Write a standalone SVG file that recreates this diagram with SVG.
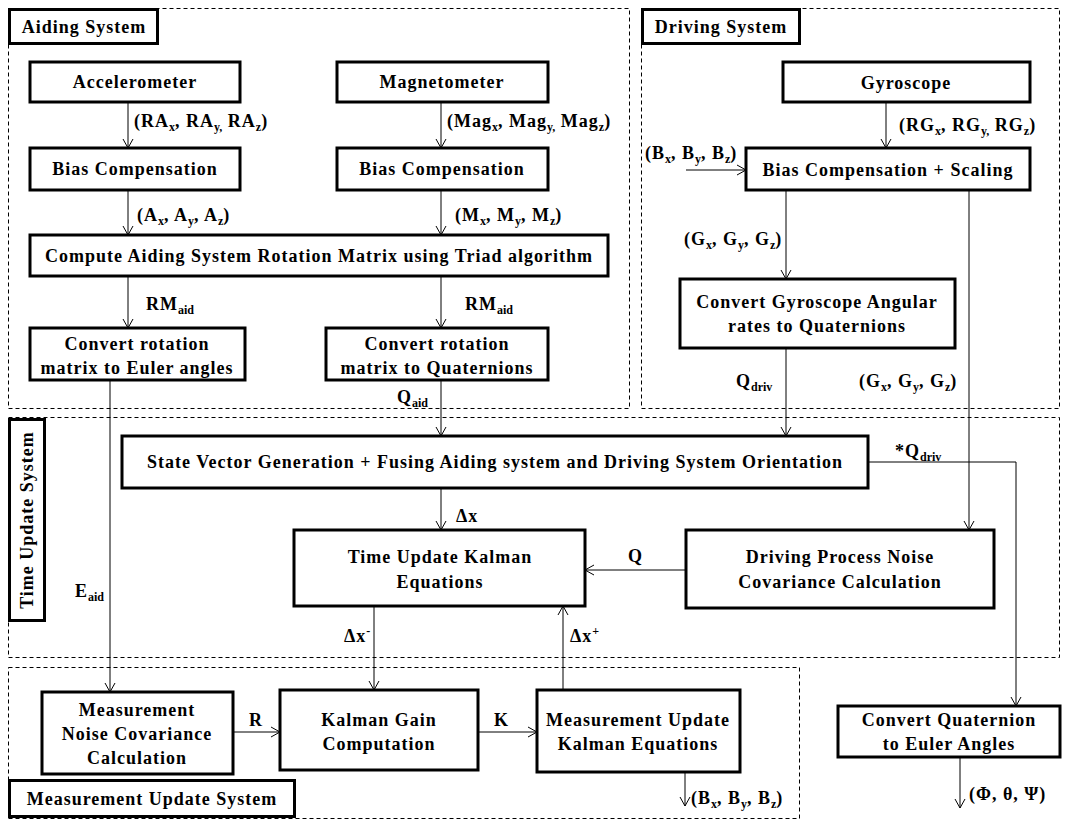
<svg xmlns="http://www.w3.org/2000/svg" width="1072" height="828" viewBox="0 0 1072 828">
<defs>
<marker id="ah" markerUnits="userSpaceOnUse" markerWidth="12" markerHeight="12" refX="10" refY="6" orient="auto">
<path d="M1,1 L10,6 L1,11" fill="none" stroke="#000" stroke-width="1"/>
</marker>
<style>
.box{fill:#fff;stroke:#000;stroke-width:3}
.grp{fill:none;stroke:#000;stroke-width:1;stroke-dasharray:4 3}
.ar{fill:none;stroke:#000;stroke-width:1;marker-end:url(#ah)}
text{font-family:"Liberation Serif","Times New Roman",serif;font-weight:bold;font-size:18px;letter-spacing:1px;fill:#000}
.c{text-anchor:middle}
.s{font-size:12px;letter-spacing:0}
</style>
</defs>
<rect width="1072" height="828" fill="#fff"/>

<!-- group frames -->
<g id="frames">
<rect class="grp" x="8.5" y="8.5" width="621" height="400"/>
<rect class="grp" x="641.5" y="8.5" width="418" height="400"/>
<rect class="grp" x="8.5" y="417.5" width="1051" height="240"/>
<rect class="grp" x="8.5" y="667.5" width="791" height="151"/>
</g>

<g id="lbl-aiding"><rect class="box" x="9.5" y="9.5" width="148" height="34"/><text class="c" x="84" y="33">Aiding System</text></g>
<g id="lbl-driving"><rect class="box" x="642.5" y="9.5" width="157" height="34"/><text class="c" x="721" y="33">Driving System</text></g>
<g id="lbl-time"><rect class="box" x="9.5" y="419.5" width="35" height="201"/><text class="c" transform="translate(33,520) rotate(-90)" x="0" y="0">Time Update System</text></g>
<g id="lbl-meas"><rect class="box" x="9.5" y="780.5" width="285" height="36"/><text class="c" x="152" y="805">Measurement Update System</text></g>

<!-- connectors -->
<g id="connectors">
<line class="ar" x1="128" y1="102" x2="128" y2="148"/>
<line class="ar" x1="441" y1="102" x2="441" y2="148"/>
<line class="ar" x1="128" y1="190" x2="128" y2="235"/>
<line class="ar" x1="441" y1="190" x2="441" y2="235"/>
<line class="ar" x1="128" y1="276" x2="128" y2="328"/>
<line class="ar" x1="441" y1="276" x2="441" y2="328"/>
<line class="ar" x1="110" y1="380" x2="110" y2="692"/>
<line class="ar" x1="441" y1="380" x2="441" y2="436"/>
<line class="ar" x1="886" y1="102" x2="886" y2="148"/>
<line class="ar" x1="686" y1="170" x2="746" y2="170"/>
<line class="ar" x1="786" y1="190" x2="786" y2="279"/>
<line class="ar" x1="969" y1="190" x2="969" y2="530"/>
<line class="ar" x1="786" y1="348" x2="786" y2="436"/>
<polyline class="ar" points="868,462 1016,462 1016,706"/>
<line class="ar" x1="441" y1="488" x2="441" y2="530"/>
<line class="ar" x1="686" y1="570" x2="585" y2="570"/>
<line class="ar" x1="374" y1="606" x2="374" y2="690"/>
<line class="ar" x1="563" y1="690" x2="563" y2="606"/>
<line class="ar" x1="233" y1="732" x2="280" y2="732"/>
<line class="ar" x1="478" y1="732" x2="537" y2="732"/>
<line class="ar" x1="685" y1="772" x2="685" y2="806"/>
<line class="ar" x1="960" y1="757" x2="960" y2="808"/>
</g>

<!-- connector labels -->
<g id="labels">
<text x="134" y="127">(RA<tspan class="s" dy="4">x</tspan><tspan dy="-4">, RA</tspan><tspan class="s" dy="4">y,</tspan><tspan dy="-4"> RA</tspan><tspan class="s" dy="4">z</tspan><tspan dy="-4">)</tspan></text>
<text x="447" y="127">(Mag<tspan class="s" dy="4">x</tspan><tspan dy="-4">, Mag</tspan><tspan class="s" dy="4">y,</tspan><tspan dy="-4"> Mag</tspan><tspan class="s" dy="4">z</tspan><tspan dy="-4">)</tspan></text>
<text x="137" y="221">(A<tspan class="s" dy="4">x</tspan><tspan dy="-4">, A</tspan><tspan class="s" dy="4">y</tspan><tspan dy="-4">, A</tspan><tspan class="s" dy="4">z</tspan><tspan dy="-4">)</tspan></text>
<text x="455" y="221">(M<tspan class="s" dy="4">x</tspan><tspan dy="-4">, M</tspan><tspan class="s" dy="4">y</tspan><tspan dy="-4">, M</tspan><tspan class="s" dy="4">z</tspan><tspan dy="-4">)</tspan></text>
<text x="146" y="310">RM<tspan class="s" dy="4">aid</tspan></text>
<text x="465" y="310">RM<tspan class="s" dy="4">aid</tspan></text>
<text x="397" y="403">Q<tspan class="s" dy="4">aid</tspan></text>
<text x="75" y="597">E<tspan class="s" dy="4">aid</tspan></text>
<text x="899" y="131">(RG<tspan class="s" dy="4">x</tspan><tspan dy="-4">, RG</tspan><tspan class="s" dy="4">y,</tspan><tspan dy="-4"> RG</tspan><tspan class="s" dy="4">z</tspan><tspan dy="-4">)</tspan></text>
<text x="645" y="159">(B<tspan class="s" dy="4">x</tspan><tspan dy="-4">, B</tspan><tspan class="s" dy="4">y</tspan><tspan dy="-4">, B</tspan><tspan class="s" dy="4">z</tspan><tspan dy="-4">)</tspan></text>
<text x="684" y="245">(G<tspan class="s" dy="4">x</tspan><tspan dy="-4">, G</tspan><tspan class="s" dy="4">y</tspan><tspan dy="-4">, G</tspan><tspan class="s" dy="4">z</tspan><tspan dy="-4">)</tspan></text>
<text x="859" y="387">(G<tspan class="s" dy="4">x</tspan><tspan dy="-4">, G</tspan><tspan class="s" dy="4">y</tspan><tspan dy="-4">, G</tspan><tspan class="s" dy="4">z</tspan><tspan dy="-4">)</tspan></text>
<text x="736" y="387">Q<tspan class="s" dy="4">driv</tspan></text>
<text x="895" y="457">*Q<tspan class="s" dy="4">driv</tspan></text>
<text x="456" y="522">Δx</text>
<text x="628" y="562">Q</text>
<text x="344" y="642">Δx<tspan class="s" dy="-7">-</tspan></text>
<text x="570" y="642">Δx<tspan class="s" dy="-7">+</tspan></text>
<text x="249" y="726">R</text>
<text x="494" y="726">K</text>
<text x="691" y="804">(B<tspan class="s" dy="4">x</tspan><tspan dy="-4">, B</tspan><tspan class="s" dy="4">y</tspan><tspan dy="-4">, B</tspan><tspan class="s" dy="4">z</tspan><tspan dy="-4">)</tspan></text>
<text x="969" y="800">(Φ, θ, Ψ)</text>
</g>

<!-- nodes -->
<g id="accelerometer"><rect class="box" x="30" y="62" width="210" height="40"/><text class="c" x="135" y="88">Accelerometer</text></g>
<g id="magnetometer"><rect class="box" x="337" y="62" width="211" height="40"/><text class="c" x="442" y="88">Magnetometer</text></g>
<g id="bias-acc"><rect class="box" x="30" y="148" width="210" height="42"/><text class="c" x="135" y="175">Bias Compensation</text></g>
<g id="bias-mag"><rect class="box" x="337" y="148" width="211" height="42"/><text class="c" x="442" y="175">Bias Compensation</text></g>
<g id="triad"><rect class="box" x="30" y="235" width="578" height="41"/><text class="c" x="319" y="262">Compute Aiding System Rotation Matrix using Triad algorithm</text></g>
<g id="rm-euler"><rect class="box" x="30" y="328" width="215" height="52"/><text class="c" x="137" y="350">Convert rotation</text><text class="c" x="137" y="374">matrix to Euler angles</text></g>
<g id="rm-quat"><rect class="box" x="326" y="328" width="222" height="52"/><text class="c" x="437" y="350">Convert rotation</text><text class="c" x="437" y="374">matrix to Quaternions</text></g>
<g id="gyroscope"><rect class="box" x="783" y="62" width="247" height="40"/><text class="c" x="906" y="89">Gyroscope</text></g>
<g id="bias-gyro"><rect class="box" x="746" y="148" width="284" height="42"/><text class="c" x="888" y="176">Bias Compensation + Scaling</text></g>
<g id="gyro-quat"><rect class="box" x="680" y="279" width="275" height="69"/><text class="c" x="817" y="308">Convert Gyroscope Angular</text><text class="c" x="817" y="332">rates to Quaternions</text></g>
<g id="state-vector"><rect class="box" x="122" y="436" width="746" height="52"/><text class="c" x="495" y="468">State Vector Generation + Fusing Aiding system and Driving System Orientation</text></g>
<g id="time-update"><rect class="box" x="294" y="530" width="291" height="76"/><text class="c" x="440" y="563">Time Update Kalman</text><text class="c" x="440" y="588">Equations</text></g>
<g id="driving-noise"><rect class="box" x="686" y="530" width="308" height="78"/><text class="c" x="840" y="563">Driving Process Noise</text><text class="c" x="840" y="588">Covariance Calculation</text></g>
<g id="meas-noise"><rect class="box" x="42" y="692" width="191" height="82"/><text class="c" x="137" y="716">Measurement</text><text class="c" x="137" y="740">Noise Covariance</text><text class="c" x="137" y="764">Calculation</text></g>
<g id="kalman-gain"><rect class="box" x="280" y="690" width="198" height="80"/><text class="c" x="379" y="726">Kalman Gain</text><text class="c" x="379" y="750">Computation</text></g>
<g id="meas-update"><rect class="box" x="537" y="690" width="203" height="82"/><text class="c" x="638" y="726">Measurement Update</text><text class="c" x="638" y="750">Kalman Equations</text></g>
<g id="quat-euler"><rect class="box" x="838" y="706" width="222" height="51"/><text class="c" x="949" y="726">Convert Quaternion</text><text class="c" x="949" y="750">to Euler Angles</text></g>
</svg>
